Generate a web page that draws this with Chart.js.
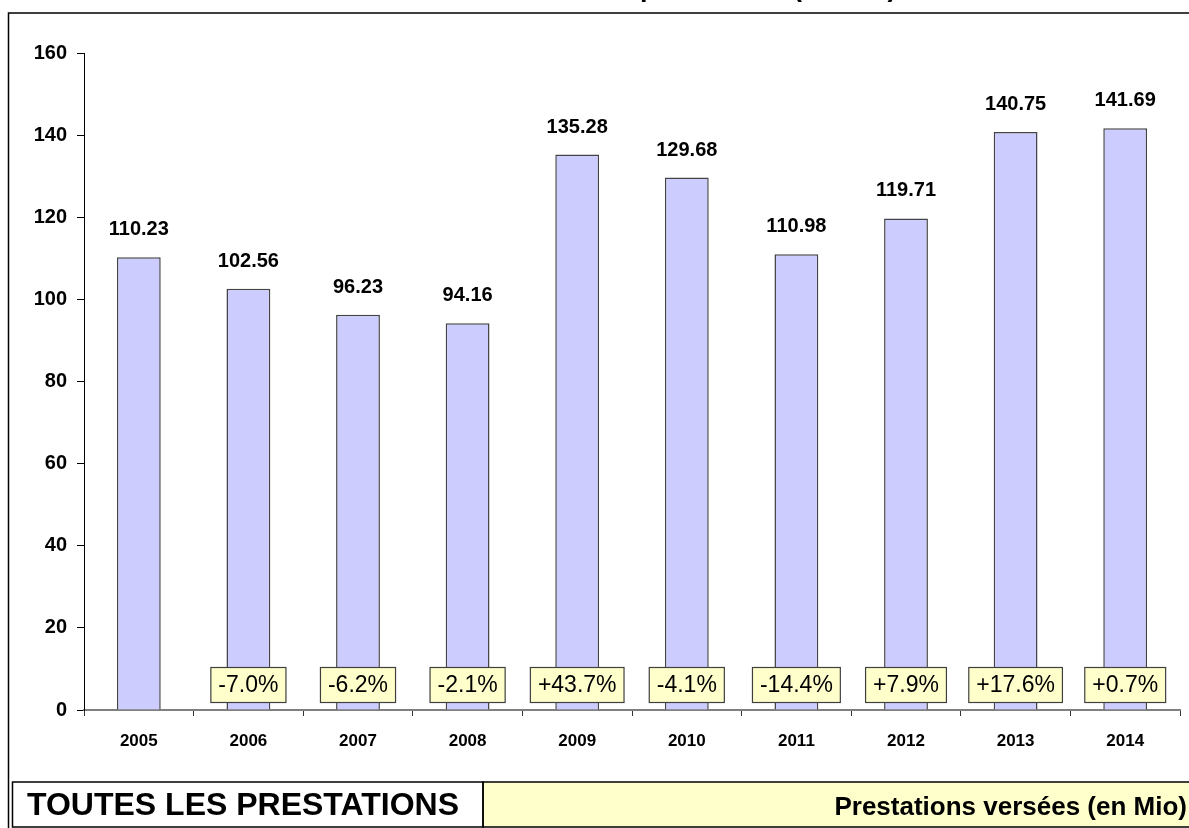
<!DOCTYPE html>
<html>
<head>
<meta charset="utf-8">
<script src="https://cdn.jsdelivr.net/npm/chart.js@4/dist/chart.umd.min.js"></script>
<style>
  html, body { margin: 0; padding: 0; background: #fff; }
  #wrap { width: 1189px; height: 828px; position: relative; }
</style>
</head>
<body>
<div id="wrap"><canvas id="prestChart"></canvas></div>
<script>
const years = ['2005', '2006', '2007', '2008', '2009', '2010', '2011', '2012', '2013', '2014'];
const amounts = [110.23, 102.56, 96.23, 94.16, 135.28, 129.68, 110.98, 119.71, 140.75, 141.69];
const changes = ['', '-7.0%', '-6.2%', '-2.1%', '+43.7%', '-4.1%', '-14.4%', '+7.9%', '+17.6%', '+0.7%'];
const yTicks = [0, 20, 40, 60, 80, 100, 120, 140, 160];

const FONT = '"Liberation Sans", Arial, sans-serif';

// frame, cut-off title and the two boxes at the bottom
const framePlugin = {
    id: 'frame',
    beforeDraw(chart) {
        const ctx = chart.ctx;
        ctx.save();
        ctx.fillStyle = '#fff';
        ctx.fillRect(0, 0, chart.width, chart.height);

        ctx.strokeStyle = '#000';
        ctx.lineWidth = 1.5;
        ctx.beginPath();
        ctx.moveTo(8.5, 830);
        ctx.lineTo(8.5, 13);
        ctx.lineTo(1192, 13);
        ctx.stroke();

        // title, mostly above the visible area
        ctx.font = 'bold 27px ' + FONT;
        ctx.fillStyle = '#000';
        ctx.textBaseline = 'alphabetic';
        ctx.textAlign = 'left';
        const prefix = 'Evolution des ';
        const x0 = 640 - ctx.measureText(prefix).width;
        ctx.fillText(prefix + 'prestations (en Mio)', x0, -4);
        ctx.restore();
    },
    afterDraw(chart) {
        const ctx = chart.ctx;
        ctx.save();
        ctx.fillStyle = '#FFFFCC';
        ctx.fillRect(483, 782, 720, 45);
        ctx.strokeStyle = '#000';
        ctx.lineWidth = 1.5;
        ctx.strokeRect(12.5, 782, 470.5, 45);
        ctx.strokeRect(483, 782, 720, 45);

        ctx.fillStyle = '#000';
        ctx.textBaseline = 'alphabetic';
        ctx.font = 'bold 32px ' + FONT;
        ctx.textAlign = 'left';
        ctx.fillText('TOUTES LES PRESTATIONS', 27, 815);
        ctx.font = 'bold 26px ' + FONT;
        ctx.textAlign = 'right';
        ctx.fillText('Prestations versées (en Mio)', 1187, 815);
        ctx.restore();
    }
};

// value labels above bars and % change boxes near the axis
const labelsPlugin = {
    id: 'barLabels',
    afterDatasetsDraw(chart) {
        const ctx = chart.ctx;
        const meta = chart.getDatasetMeta(0);
        const yScale = chart.scales.y;
        ctx.save();
        meta.data.forEach((bar, i) => {
            ctx.fillStyle = '#000';
            ctx.font = 'bold 20px ' + FONT;
            ctx.textAlign = 'center';
            ctx.textBaseline = 'alphabetic';
            ctx.fillText(amounts[i].toFixed(2), bar.x, bar.y - 22);

            const txt = changes[i];
            if (!txt) return;
            ctx.font = '23px ' + FONT;
            const w = ctx.measureText(txt).width + 15;
            const h = 35;
            const cy = yScale.getPixelForValue(0) - 25;
            ctx.fillStyle = '#FFFFCC';
            ctx.fillRect(bar.x - w / 2, cy - h / 2, w, h);
            ctx.strokeStyle = '#404040';
            ctx.lineWidth = 1.2;
            ctx.strokeRect(bar.x - w / 2, cy - h / 2, w, h);
            ctx.fillStyle = '#000';
            ctx.textBaseline = 'middle';
            ctx.fillText(txt, bar.x, cy + 1);
        });
        ctx.restore();
    }
};

new Chart(document.getElementById('prestChart'), {
    type: 'bar',
    data: {
        labels: years,
        datasets: [{
            data: amounts,
            backgroundColor: '#CCCCFF',
            borderColor: '#444444',
            borderWidth: 1.5,
            barPercentage: 0.4,
            categoryPercentage: 1.0
        }]
    },
    options: {
        responsive: true,
        maintainAspectRatio: false,
        animation: false,
        layout: { padding: { left: 0, right: 9, top: 53, bottom: 0 } },
        plugins: {
            legend: { display: false },
            tooltip: { enabled: false }
        },
        scales: {
            x: {
                afterFit: s => { s.height = 118; },
                grid: { drawOnChartArea: false, tickLength: 6, color: '#333', offset: true },
                border: { color: '#808080', width: 2 },
                ticks: { color: '#000', padding: 15, font: { family: FONT, size: 17, weight: 'bold' } }
            },
            y: {
                min: 0,
                max: 160,
                afterFit: s => { s.width = 84; },
                afterBuildTicks: s => { s.ticks = yTicks.map(v => ({ value: v })); },
                grid: { drawOnChartArea: false, tickLength: 7, color: '#000' },
                border: { color: '#000', width: 1 },
                ticks: { color: '#000', padding: 10, font: { family: FONT, size: 20, weight: 'bold' } }
            }
        }
    },
    plugins: [framePlugin, labelsPlugin]
});
</script>
</body>
</html>
